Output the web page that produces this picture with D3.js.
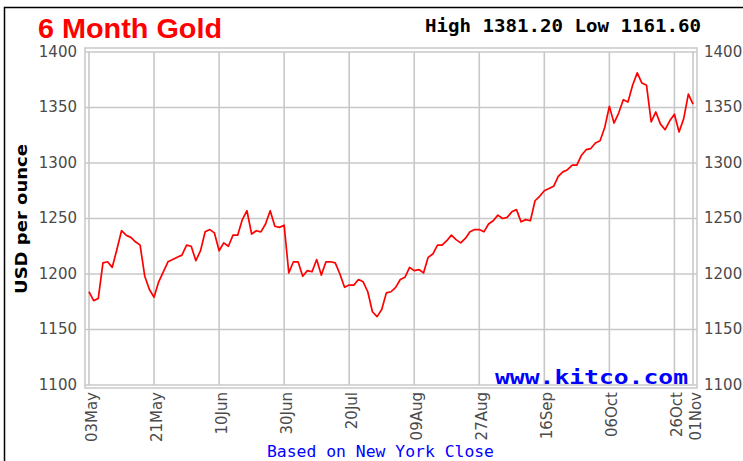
<!DOCTYPE html>
<html>
<head>
<meta charset="utf-8">
<script src="https://cdn.jsdelivr.net/npm/d3@7"></script>
<style>
  html, body { margin: 0; padding: 0; background: #fff; overflow: hidden; }
  svg { display: block; }
</style>
</head>
<body>
<div id="chart"></div>
<script>
// NY close, one value per trading day, 03 May -> 01 Nov
const closes = [
  1184, 1176, 1178, 1210, 1211, 1206, 1222, 1239, 1235, 1233, 1229, 1226, 1198, 1186,
  1179, 1193, 1202, 1211, 1213, 1215, 1217, 1226, 1225, 1212, 1221, 1238, 1240, 1237,
  1221, 1228, 1225, 1235, 1235, 1249, 1257, 1236, 1239, 1238, 1245, 1257, 1243, 1242,
  1244, 1201, 1211, 1211, 1198, 1203, 1202, 1213, 1199, 1211, 1211, 1210, 1200, 1188,
  1190, 1190, 1195, 1193, 1184, 1166, 1161.6, 1168, 1183, 1184, 1188, 1195, 1197, 1206,
  1203, 1204, 1201, 1215, 1218, 1226, 1226, 1230, 1235, 1231, 1228, 1232, 1238, 1240,
  1240, 1238, 1245, 1248, 1253, 1250, 1251, 1256, 1258, 1247, 1249, 1248, 1266, 1270,
  1275, 1277, 1279, 1288, 1292, 1294, 1298, 1298, 1307, 1312, 1313, 1318, 1320, 1332,
  1351, 1336, 1345, 1357, 1355, 1370, 1381.2, 1372, 1370, 1337, 1346, 1335, 1330, 1338,
  1344, 1328, 1340, 1362, 1353
];
const tickLabels = ["03May", "21May", "10Jun", "30Jun", "20Jul", "09Aug", "27Aug", "16Sep", "06Oct", "26Oct", "01Nov"];
const tickIndex = [0, 14, 28, 42, 56, 70, 84, 98, 112, 126, 130];
const yTicks = [1100, 1150, 1200, 1250, 1300, 1350, 1400];

const W = 743, H = 461;
const svg = d3.select("#chart").append("svg")
  .attr("width", W)
  .attr("height", H)
  .style("font-family", "'DejaVu Sans', sans-serif");

// outer black border (cropped at right & bottom)
svg.append("rect")
  .attr("x", 4.5).attr("y", 7.5)
  .attr("width", 800).attr("height", 500)
  .attr("fill", "#fff")
  .attr("stroke", "#000")
  .attr("stroke-width", 1.5);

const x = d3.scaleLinear().domain([0, closes.length - 1]).range([89, 693]);
const y = d3.scaleLinear().domain([1100, 1400]).range([385, 52]);

// plot frame
svg.append("rect")
  .attr("x", 85).attr("y", 48)
  .attr("width", 612).attr("height", 340)
  .attr("fill", "none")
  .attr("stroke", "#c8c8c8")
  .attr("stroke-width", 1.5);

// vertical grid
svg.selectAll(".vgrid")
  .data(tickIndex)
  .join("line")
  .attr("x1", d => x(d)).attr("x2", d => x(d))
  .attr("y1", y(1400)).attr("y2", y(1100))
  .attr("stroke", "#c8c8c8")
  .attr("stroke-width", 1.6);

// horizontal grid
svg.selectAll(".hgrid")
  .data(yTicks)
  .join("line")
  .attr("x1", 85).attr("x2", 697)
  .attr("y1", d => y(d)).attr("y2", d => y(d))
  .attr("stroke", "#c8c8c8")
  .attr("stroke-width", 1.6);

// y tick labels, both sides
const tickStyle = g => g
  .attr("font-size", "15px")
  .attr("fill", "#4a4a4a")
  .attr("dominant-baseline", "middle");

svg.append("g").call(tickStyle)
  .selectAll("text")
  .data(yTicks)
  .join("text")
  .attr("x", 77)
  .attr("y", d => y(d))
  .attr("text-anchor", "end")
  .text(d => d);

svg.append("g").call(tickStyle)
  .selectAll("text")
  .data(yTicks)
  .join("text")
  .attr("x", 704)
  .attr("y", d => y(d))
  .attr("text-anchor", "start")
  .text(d => d);

// x tick labels (rotated)
svg.append("g")
  .attr("font-size", "15px")
  .attr("fill", "#4a4a4a")
  .selectAll("text")
  .data(tickIndex)
  .join("text")
  .attr("transform", d => `translate(${x(d) + 3},392) rotate(-90)`)
  .attr("text-anchor", "end")
  .attr("dominant-baseline", "middle")
  .text((d, i) => tickLabels[i]);

// price line
const line = d3.line()
  .x((d, i) => x(i))
  .y(d => y(d));

svg.append("path")
  .datum(closes)
  .attr("fill", "none")
  .attr("stroke", "#ff0000")
  .attr("stroke-width", 1.7)
  .attr("stroke-linejoin", "round")
  .attr("d", line);

// title
svg.append("text")
  .attr("x", 38).attr("y", 38)
  .attr("font-family", "'Liberation Sans', Arial, sans-serif")
  .attr("font-weight", "bold")
  .attr("font-size", "28px")
  .attr("fill", "#ff0000")
  .attr("textLength", 184)
  .attr("lengthAdjust", "spacingAndGlyphs")
  .text("6 Month Gold");

// high / low
const hi = d3.max(closes), lo = d3.min(closes);
svg.append("text")
  .attr("x", 425).attr("y", 32)
  .attr("font-family", "'DejaVu Sans Mono', monospace")
  .attr("font-weight", "bold")
  .attr("font-size", "17px")
  .attr("fill", "#000")
  .attr("textLength", 276)
  .attr("lengthAdjust", "spacingAndGlyphs")
  .text(`High ${hi.toFixed(2)} Low ${lo.toFixed(2)}`);

// y axis title
svg.append("text")
  .attr("transform", "translate(27,219) rotate(-90)")
  .attr("text-anchor", "middle")
  .attr("font-weight", "bold")
  .attr("font-size", "15px")
  .attr("fill", "#000")
  .attr("textLength", 150)
  .attr("lengthAdjust", "spacingAndGlyphs")
  .text("USD per ounce");

// watermark
svg.append("text")
  .attr("x", 495).attr("y", 384)
  .attr("font-family", "'DejaVu Sans Mono', monospace")
  .attr("font-weight", "bold")
  .attr("font-size", "20px")
  .attr("fill", "#0000ff")
  .attr("textLength", 193)
  .attr("lengthAdjust", "spacingAndGlyphs")
  .text("www.kitco.com");

// footer
svg.append("text")
  .attr("x", 267).attr("y", 457)
  .attr("font-family", "'DejaVu Sans Mono', monospace")
  .attr("font-size", "15px")
  .attr("fill", "#0000ff")
  .attr("textLength", 227)
  .attr("lengthAdjust", "spacingAndGlyphs")
  .text("Based on New York Close");
</script>
</body>
</html>
